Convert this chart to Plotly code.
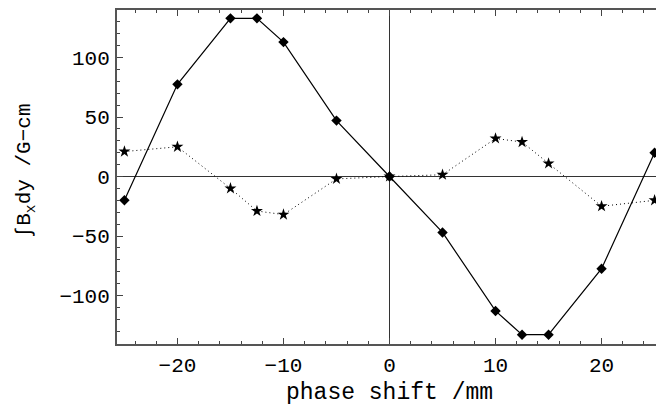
import plotly.graph_objects as go

shift = [-25, -20, -15, -12.5, -10, -5, 0, 5, 10, 12.5, 15, 20, 25]
solid_vals = [-20, 77.5, 133, 133, 113, 47, 0, -47, -113, -133, -133, -77.5, 20]
dotted_vals = [21, 25, -10, -29, -32, -2, 0, 1.5, 32, 29, 11, -25, -20]

x_ticks = [-20, -10, 0, 10, 20]
x_ticktext = ["\u221220", "\u221210", "0", "10", "20"]
y_ticks = [-100, -50, 0, 50, 100]
y_ticktext = ["\u2212100", "\u221250", "0", "50", "100"]

font_mono = "Liberation Mono, Courier New, monospace"

W, H = 656, 399
L, R, T, B = 109, 0, 0, 63
pw, ph = W - L - R, H - T - B

fig = go.Figure()
fig.add_trace(go.Scatter(
    x=shift, y=dotted_vals, mode="lines+markers",
    line=dict(color="black", width=1, dash="1px,3px"),
    marker=dict(symbol="star", size=9, color="black"),
))
fig.add_trace(go.Scatter(
    x=shift, y=solid_vals, mode="lines+markers",
    line=dict(color="black", width=1.2),
    marker=dict(symbol="diamond", size=8, color="black"),
))

axis_common = dict(
    showgrid=False, showline=True, linecolor="#555", linewidth=2,
    ticks="inside", ticklen=6, tickcolor="#444", tickwidth=1,
    mirror="ticks", zeroline=True, zerolinecolor="#333", zerolinewidth=1.3,
    tickfont=dict(family=font_mono, size=21, color="black"),
    ticklabelstandoff=1,
)

fig.update_layout(
    width=W, height=H,
    margin=dict(l=L, r=R, t=T, b=B),
    paper_bgcolor="white", plot_bgcolor="white",
    showlegend=False,
    xaxis=dict(
        range=[-25.7, 25.7], tickvals=x_ticks, ticktext=x_ticktext,
        minor=dict(dtick=2, ticks="inside", ticklen=3, tickcolor="#444"),
        **axis_common,
    ),
    yaxis=dict(
        range=[-140.8, 140], tickvals=y_ticks, ticktext=y_ticktext,
        minor=dict(dtick=10, ticks="inside", ticklen=3, tickcolor="#444"),
        **axis_common,
    ),
    annotations=[
        dict(text="phase shift /mm", xref="paper", yref="paper",
             x=0.5, y=1 - (385 - T) / ph, xanchor="center", yanchor="middle",
             showarrow=False, font=dict(family=font_mono, size=23, color="black")),
        dict(text="\u222bB<sub>x</sub>dy /G\u2212cm", xref="paper", yref="paper",
             x=(17 - L) / pw, y=1 - (162 - T) / ph, xanchor="center", yanchor="middle",
             textangle=-90, showarrow=False,
             font=dict(family=font_mono, size=21, color="black")),
    ],
)

fig.write_html("out.html")
